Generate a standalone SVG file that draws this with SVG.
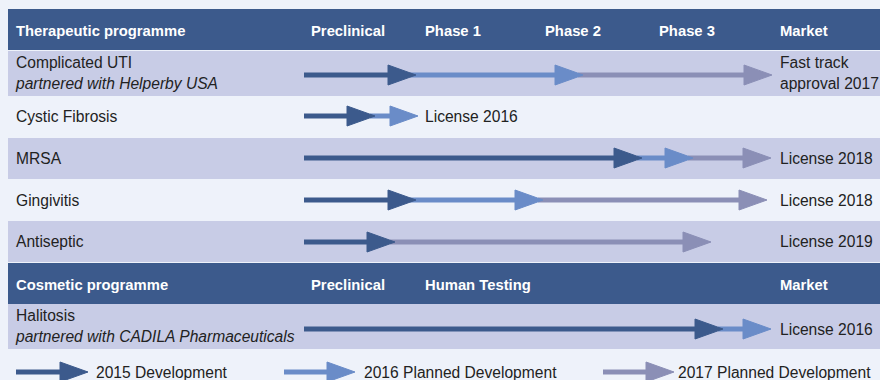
<svg xmlns="http://www.w3.org/2000/svg" xmlns:xlink="http://www.w3.org/1999/xlink" width="880" height="380" viewBox="0 0 880 380">
<defs>
<style>
.hdr{fill:#3c5a8c}
.band{fill:#c8cce6}
.ht{font-family:"Liberation Sans",Arial,sans-serif;font-size:14.8px;font-weight:bold;fill:#ffffff}
.t{font-family:"Liberation Sans",Arial,sans-serif;font-size:15.6px;fill:#222222}
.i{font-style:italic}
.d{stroke:#3c5a8c;fill:#3c5a8c}
.m{stroke:#6a8cc8;fill:#6a8cc8}
.g{stroke:#8b8fb6;fill:#8b8fb6}
line{stroke-width:5}
use{stroke:none}
</style>
<path id="h" d="M0,-10 L28,0 L0,10 Z"/>
</defs>
<rect x="0" y="0" width="880" height="380" fill="#eef2fa"/>

<g id="header-therapeutic">
<rect class="hdr" x="8" y="9" width="872" height="41"/>
<text class="ht" x="16" y="36">Therapeutic programme</text>
<text class="ht" x="311" y="36">Preclinical</text>
<text class="ht" x="425" y="36">Phase 1</text>
<text class="ht" x="545" y="36">Phase 2</text>
<text class="ht" x="659" y="36">Phase 3</text>
<text class="ht" x="780" y="36">Market</text>
</g>
<g id="row-uti">
<rect class="band" x="8" y="51" width="872" height="45"/>
<text class="t" x="16" y="68">Complicated UTI</text>
<text class="t i" x="16" y="89">partnered with Helperby USA</text>
<text class="t" x="780" y="68">Fast track</text>
<text class="t" x="780" y="89">approval 2017</text>
</g>
<g id="row-cf">
<text class="t" x="16" y="122">Cystic Fibrosis</text>
<text class="t" x="425" y="122">License 2016</text>
</g>
<g id="row-mrsa">
<rect class="band" x="8" y="138" width="872" height="41"/>
<text class="t" x="16" y="164">MRSA</text>
<text class="t" x="780" y="164">License 2018</text>
</g>
<g id="row-gingivitis">
<text class="t" x="16" y="206">Gingivitis</text>
<text class="t" x="780" y="206">License 2018</text>
</g>
<g id="row-antiseptic">
<rect class="band" x="8" y="221" width="872" height="41"/>
<text class="t" x="16" y="247">Antiseptic</text>
<text class="t" x="780" y="247">License 2019</text>
</g>
<g id="header-cosmetic">
<rect class="hdr" x="8" y="263" width="872" height="41"/>
<text class="ht" x="16" y="290">Cosmetic programme</text>
<text class="ht" x="311" y="290">Preclinical</text>
<text class="ht" x="425" y="290">Human Testing</text>
<text class="ht" x="780" y="290">Market</text>
</g>
<g id="row-halitosis">
<rect class="band" x="8" y="304" width="872" height="45"/>
<text class="t" x="16" y="321">Halitosis</text>
<text class="t i" x="16" y="342">partnered with CADILA Pharmaceuticals</text>
<text class="t" x="780" y="335">License 2016</text>
</g>
<g id="legend">
<text class="t" x="96" y="378">2015 Development</text>
<text class="t" x="364" y="378">2016 Planned Development</text>
<text class="t" x="678" y="378">2017 Planned Development</text>
</g>

<g id="connectors">
<!-- UTI -->
<line class="g" x1="578" y1="75" x2="745" y2="75"/><use class="g" xlink:href="#h" x="744" y="75"/>
<line class="m" x1="410" y1="75" x2="557" y2="75"/><use class="m" xlink:href="#h" x="555" y="75"/>
<line class="d" x1="304" y1="75" x2="390" y2="75"/><use class="d" xlink:href="#h" x="388" y="75"/>
<!-- CF -->
<line class="m" x1="370" y1="116" x2="392" y2="116"/><use class="m" xlink:href="#h" x="390" y="116"/>
<line class="d" x1="304" y1="116" x2="349" y2="116"/><use class="d" xlink:href="#h" x="347" y="116"/>
<!-- MRSA -->
<line class="g" x1="688" y1="158" x2="745" y2="158"/><use class="g" xlink:href="#h" x="743" y="158"/>
<line class="m" x1="637" y1="158" x2="667" y2="158"/><use class="m" xlink:href="#h" x="665" y="158"/>
<line class="d" x1="304" y1="158" x2="616" y2="158"/><use class="d" xlink:href="#h" x="614" y="158"/>
<!-- Gingivitis -->
<line class="g" x1="538" y1="200" x2="741" y2="200"/><use class="g" xlink:href="#h" x="739" y="200"/>
<line class="m" x1="410" y1="200" x2="517" y2="200"/><use class="m" xlink:href="#h" x="515" y="200"/>
<line class="d" x1="304" y1="200" x2="390" y2="200"/><use class="d" xlink:href="#h" x="388" y="200"/>
<!-- Antiseptic -->
<line class="g" x1="390" y1="242" x2="685" y2="242"/><use class="g" xlink:href="#h" x="683" y="242"/>
<line class="d" x1="304" y1="242" x2="369" y2="242"/><use class="d" xlink:href="#h" x="367" y="242"/>
<!-- Halitosis -->
<line class="m" x1="718" y1="329" x2="745" y2="329"/><use class="m" xlink:href="#h" x="743" y="329"/>
<line class="d" x1="304" y1="329" x2="697" y2="329"/><use class="d" xlink:href="#h" x="695" y="329"/>
<!-- Legend -->
<line class="d" x1="16" y1="372" x2="62" y2="372"/><use class="d" xlink:href="#h" x="60" y="372"/>
<line class="m" x1="284" y1="372" x2="329" y2="372"/><use class="m" xlink:href="#h" x="327" y="372"/>
<line class="g" x1="603" y1="372" x2="648" y2="372"/><use class="g" xlink:href="#h" x="646" y="372"/>
</g>
</svg>
